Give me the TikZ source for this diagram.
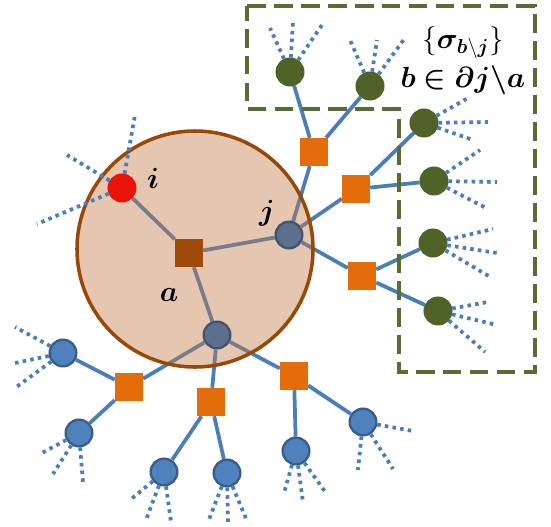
\documentclass[tikz,border=0pt]{standalone}
\usepackage{amsmath,bm}
\usetikzlibrary{positioning}
\pgfdeclarelayer{back}
\pgfdeclarelayer{mid}
\pgfsetlayers{back,mid,main}
\definecolor{edgeblue}{HTML}{4A7EBB}
\definecolor{nodeblue}{HTML}{4F81BD}
\definecolor{nodeblueD}{HTML}{385D8A}
\definecolor{nodegray}{HTML}{5C6F8E}
\definecolor{nodegrayD}{HTML}{44546E}
\definecolor{nodegreen}{HTML}{4F6228}
\definecolor{nodered}{HTML}{E8140C}
\definecolor{facorange}{HTML}{E46C0A}
\definecolor{facbrown}{HTML}{9E4A08}
\definecolor{ballfill}{HTML}{BE7846}
\definecolor{balldraw}{HTML}{984807}
\definecolor{boxolive}{HTML}{5A6B36}

\begin{document}
\begin{tikzpicture}[x=0.03cm,y=-0.03cm,
    var/.style={draw,circle,line width=2pt,minimum size=0.8cm,inner sep=0pt},
    vblue/.style={var,fill=nodeblue,draw=nodeblueD},
    vgray/.style={var,fill=nodegray,draw=nodegrayD},
    vgreen/.style={var,fill=nodegreen,draw=nodegreen},
    vred/.style={var,fill=nodered,draw=nodered},
    fac/.style={rectangle,minimum size=0.84cm,inner sep=0pt,fill=facorange},
    ball/.style={circle,minimum size=7.08cm,inner sep=0pt,fill=ballfill,fill opacity=0.42,draw=balldraw,draw opacity=1,line width=3pt},
    edge/.style={line width=3.2pt,draw=edgeblue},
    stub/.style={line width=3.2pt,draw=edgeblue,dash pattern=on 3pt off 3.6pt},
    dbox/.style={line width=3.4pt,draw=boxolive,dash pattern=on 16pt off 7pt},
    lab/.style={font=\fontsize{25}{30}\selectfont,inner sep=0pt}]
    \useasboundingbox (0,0) rectangle (551,527);

    % cavity around factor a
    \begin{pgfonlayer}{mid}
      \node[ball] (ball) at (195,249) {};
    \end{pgfonlayer}

    % centre
    \node[fac,fill=facbrown] (a) at (189,253) {};
    \node[vred]  (i)  at (122,188) {};
    \node[vgray] (j)  at (289,235) {};
    \node[vgray] (k)  at (217,335) {};
    \node[lab] (li) at (153,178) {$\bm{i}$};
    \node[lab] (lj) at (267,213) {$\bm{j}$};
    \node[lab] (la) at (169,295) {$\bm{a}$};

    % neighbourhood of j
    \node[fac] (f1) at (314,152) {};
    \node[fac] (f2) at (356,189) {};
    \node[fac] (f3) at (362,276) {};
    \node[vgreen] (g1) at (290,72)  {};
    \node[vgreen] (g2) at (370,86)  {};
    \node[vgreen] (g3) at (424,123) {};
    \node[vgreen] (g4) at (434,181) {};
    \node[vgreen] (g5) at (433,243) {};
    \node[vgreen] (g6) at (438,311) {};

    % lower branch
    \node[fac] (h1) at (129,387) {};
    \node[fac] (h2) at (211,402) {};
    \node[fac] (h3) at (294,376) {};
    \node[vblue] (b1) at (63,353)  {};
    \node[vblue] (b2) at (79,433)  {};
    \node[vblue] (b3) at (164,472) {};
    \node[vblue] (b4) at (227,473) {};
    \node[vblue] (b5) at (296,451) {};
    \node[vblue] (b6) at (363,422) {};

    % cavity set
    \draw[dbox] (247,6) -- (535,6) -- (535,372) -- (399,372) -- (399,109) -- (247,109) -- cycle;
    \node[lab] (sig) at (463,43) {$\{\bm{\sigma}_{\bm{b}\backslash\bm{j}}\}$};
    \node[lab] (bin) at (463,80) {$\bm{b\in\partial j\backslash a}$};

    \begin{pgfonlayer}{back}
      \draw[edge] (i)--(a); \draw[edge] (a)--(j); \draw[edge] (a)--(k);
      \draw[edge] (j)--(f1); \draw[edge] (j)--(f2); \draw[edge] (j)--(f3);
      \draw[edge] (f1)--(g1); \draw[edge] (f1)--(g2);
      \draw[edge] (f2)--(g3); \draw[edge] (f2)--(g4);
      \draw[edge] (f3)--(g5); \draw[edge] (f3)--(g6);
      \draw[edge] (k)--(h1); \draw[edge] (k)--(h2); \draw[edge] (k)--(h3);
      \draw[edge] (h1)--(b1); \draw[edge] (h1)--(b2);
      \draw[edge] (h2)--(b3); \draw[edge] (h2)--(b4);
      \draw[edge] (h3)--(b5); \draw[edge] (h3)--(b6);
    \end{pgfonlayer}

    % loose ends
    \foreach \n/\dx/\dy in {i/13/-73, i/-55/-33, i/-85/36,
        g1/-20/-44, g1/3/-50, g1/32/-47, g2/-20/-46, g2/7/-46, g2/35/-48,
        g3/44/-25, g3/64/-1, g3/49/17, g4/46/-31, g4/63/1, g4/54/28,
        g5/60/-14, g5/64/10, g5/59/35, g6/50/-9, g6/59/14, g6/47/41,
        b1/-48/-26, b1/-48/10, b1/-48/35, b2/-37/20, b2/-26/41, b2/4/50,
        b3/-34/28, b3/-18/48, b3/7/50, b4/-19/49, b4/1/49, b4/20/48,
        b5/-12/42, b5/7/51, b5/30/42, b6/50/9, b6/-5/48, b6/30/47}
      \draw[stub] (\n) -- ++(\dx,\dy);
  \end{tikzpicture}
\end{document}
